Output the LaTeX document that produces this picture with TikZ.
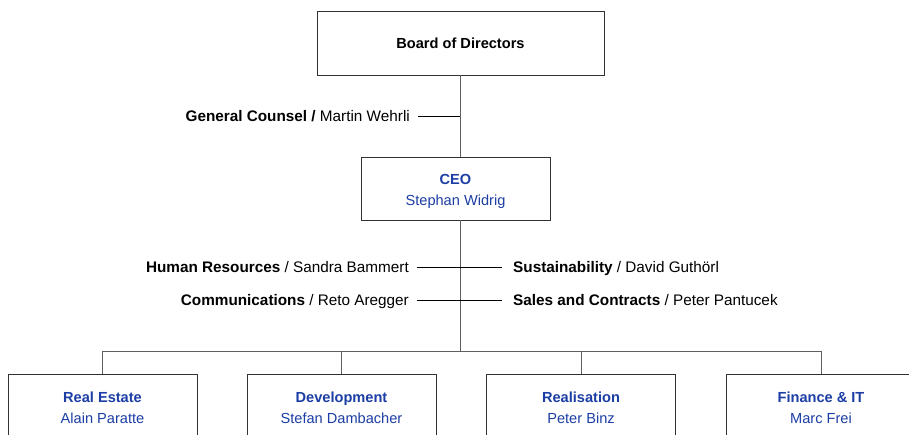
\documentclass[tikz,border=0pt]{standalone}
\usepackage{fontspec}
\setmainfont{Liberation Sans}
\definecolor{hblue}{RGB}{28,62,165}
\definecolor{lgray}{RGB}{95,95,95}
\definecolor{bgray}{RGB}{50,50,50}
\begin{document}
\begin{tikzpicture}[x=1pt,y=-1pt,
  box/.style={draw=bgray,line width=0.9pt,fill=white,align=center,inner sep=0pt,font=\fontsize{14.6}{21}\selectfont},
  btext/.style={align=center,inner sep=0pt,font=\fontsize{14.6}{21}\selectfont},
  lab/.style={inner sep=0pt,font=\fontsize{15.3}{18}\selectfont},
  conn/.style={draw=lgray,line width=1pt},
  side/.style={draw=black,line width=0.8pt}]
\useasboundingbox (0,0) rectangle (909,435);
\clip (0,0) rectangle (909,435);
% boxes
\node[box,minimum width=287,minimum height=64] (board) at (460.5,43) {\textbf{Board of Directors}};
\node[box,minimum width=189,minimum height=63] (ceo) at (455.5,188.5) {};
\node[btext] (ceot) at (455.5,191) {\textcolor{hblue}{\textbf{CEO}}\\\textcolor{hblue}{Stephan Widrig}};
% bottom boxes (cut off at picture edge)
\node[box,minimum width=189,minimum height=90,anchor=north] (re) at (102.5,374) {};
\node[box,minimum width=189,minimum height=90,anchor=north] (dev) at (341.5,374) {};
\node[box,minimum width=189,minimum height=90,anchor=north] (real) at (581,374) {};
\node[box,minimum width=189,minimum height=90,anchor=north] (fin) at (821,374) {};
\node[btext] (ret) at (102.5,407.5) {\textcolor{hblue}{\textbf{Real Estate}}\\\textcolor{hblue}{Alain Paratte}};
\node[btext] (devt) at (341.5,407.5) {\textcolor{hblue}{\textbf{Development}}\\\textcolor{hblue}{Stefan Dambacher}};
\node[btext] (realt) at (581,407.5) {\textcolor{hblue}{\textbf{Realisation}}\\\textcolor{hblue}{Peter Binz}};
\node[btext] (fint) at (821,407.5) {\textcolor{hblue}{\textbf{Finance \& IT}}\\\textcolor{hblue}{Marc Frei}};
% staff labels
\node[lab,anchor=base east] (gc) at (410,121.5) {\textbf{General Counsel /} Martin Wehrli};
\node[lab,anchor=base east] (hr) at (409,272.5) {\textbf{Human Resources} / Sandra Bammert};
\node[lab,anchor=base east] (com) at (409,305.5) {\textbf{Communications} / Reto Aregger};
\node[lab,anchor=base west] (sus) at (513,272.5) {\textbf{Sustainability} / David Guthörl};
\node[lab,anchor=base west] (sal) at (513,305.5) {\textbf{Sales and Contracts} / Peter Pantucek};
% coordinates
\coordinate (gcj) at (460,116);
\coordinate (bus) at (460,351);
\coordinate (hrl) at (417,267);
\coordinate (hrr) at (502,267);
\coordinate (coml) at (417,300);
\coordinate (comr) at (502,300);
% connectors
\draw[conn] (board.south -| gcj) -- (ceo.north -| gcj);
\draw[conn] (ceo.south -| gcj) -- (bus);
\draw[conn] (re.north) |- (bus);
\draw[conn] (dev.north) |- (bus);
\draw[conn] (real.north) |- (bus);
\draw[conn] (fin.north) |- (bus);
\draw[side] (gc.east |- gcj) ++(8,0) -- (gcj);
\draw[side] (hrl) -- (hrr);
\draw[side] (coml) -- (comr);
\end{tikzpicture}
\end{document}
